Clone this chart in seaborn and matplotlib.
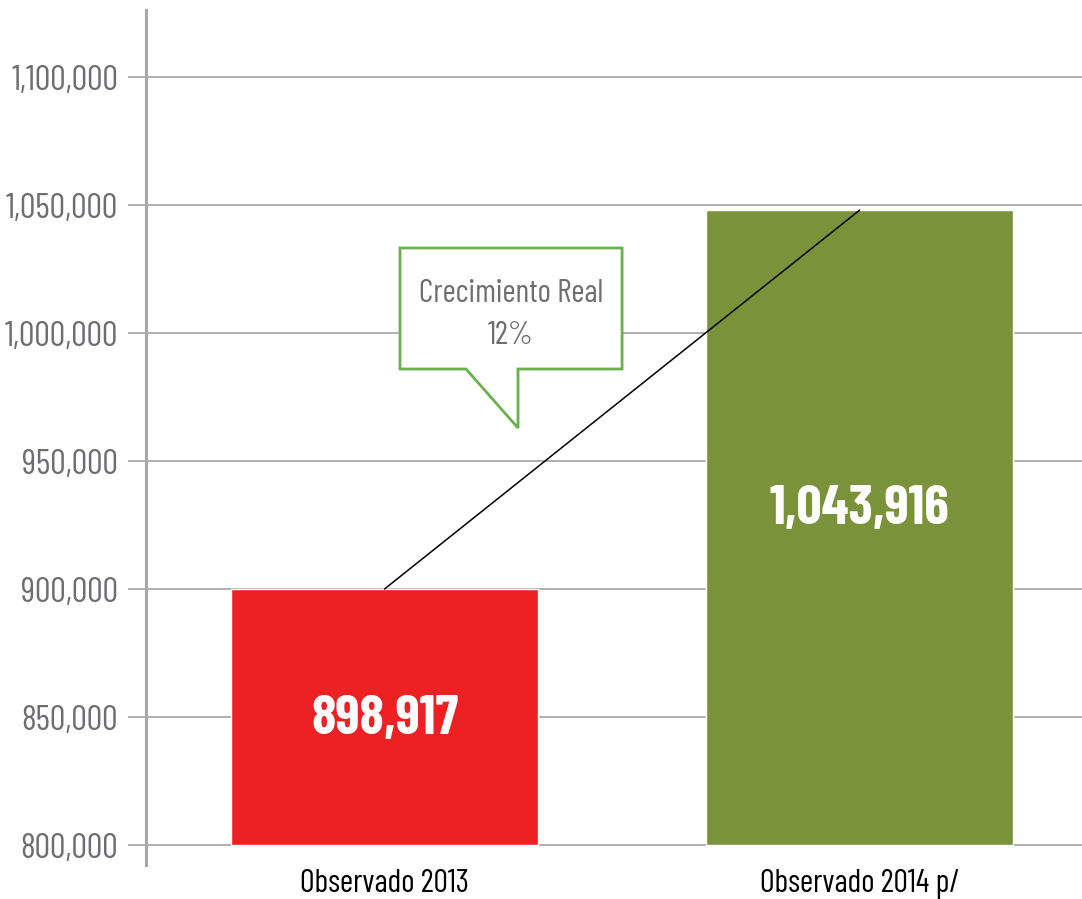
"""Crecimiento real: observado 2013 vs 2014"""

import numpy as np
import matplotlib
matplotlib.use("Agg")
import matplotlib.pyplot as plt
from matplotlib.patches import Polygon
from matplotlib.ticker import FuncFormatter
import seaborn as sns

# data
categories = ["Observado 2013", "Observado 2014 p/"]
values = [900000, 1048000]
value_labels = ["898,917", "1,043,916"]
label_y = [849000, 931000]
base = 800000
yticks = [800000, 850000, 900000, 950000, 1000000, 1050000, 1100000]
callout_text = "Crecimiento Real\n12%"

red_color = "#ed2024"
green_color = "#7a923a"
grid_color = "#a7a9ac"
tick_color = "#6d6e71"
box_color = "#6ab04c"

sns.set_style("white")
plt.rcParams["font.family"] = ["Barlow Condensed", "DejaVu Sans"]

fig = plt.figure(figsize=(10.82, 8.99), dpi=100)
ax = fig.add_axes([146 / 1082, 34 / 899, 1 - 146 / 1082, (865 - 10) / 899])

heights = np.asarray(values) - base
sns.barplot(x=categories, y=heights, hue=categories, palette=[red_color, green_color],
            legend=False, width=0.646, bottom=base, saturation=1, ax=ax, zorder=2)

# line between the two bar tops
ax.plot([0, 1], values, color="black", lw=1.1, zorder=3)

for i, txt in enumerate(value_labels):
    ax.text(i, label_y[i], txt, color="white", fontsize=40, fontweight="bold",
            ha="center", va="center", zorder=4)

# speech-bubble callout
bubble = [(0.0326, 1033203), (0.5, 1033203), (0.5, 985937), (0.281, 985937),
          (0.281, 962891), (0.1716, 985937), (0.0326, 985937)]
ax.add_patch(Polygon(bubble, closed=True, facecolor="white", edgecolor=box_color,
                     lw=2, zorder=3))
ax.text(0.266, 1007000, callout_text, color=tick_color, fontsize=23,
        ha="center", va="center", linespacing=1.5, zorder=4)

ax.set_xlim(-0.502, 1.468)
ax.set_ylim(792188, 1126172)
ax.set_yticks(yticks)
ax.yaxis.set_major_formatter(FuncFormatter(lambda v, p: f"{int(v):,}"))
ax.grid(axis="y", color=grid_color, lw=1.3)
ax.set_axisbelow(True)
ax.tick_params(axis="y", length=13, width=1.3, color=grid_color, pad=7,
               labelsize=25, labelcolor=tick_color, left=True)
ax.tick_params(axis="x", length=0, pad=3, labelsize=23, labelcolor="black")
ax.set_xlabel("")
ax.set_ylabel("")

for side in ["top", "right", "bottom"]:
    ax.spines[side].set_visible(False)
ax.spines["left"].set_color(grid_color)
ax.spines["left"].set_linewidth(2.2)

fig.savefig("out.png", dpi=100)
